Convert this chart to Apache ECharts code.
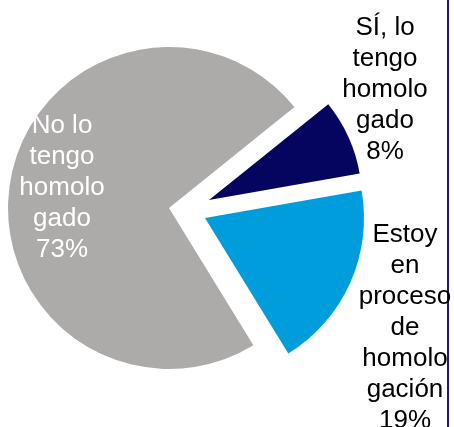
<!DOCTYPE html>
<html>
<head>
<meta charset="utf-8">
<style>
  html, body { margin: 0; padding: 0; background: #ffffff; }
  #chart { width: 454px; height: 427px; }
</style>
<script src="https://cdn.jsdelivr.net/npm/echarts@6/dist/echarts.min.js"></script>
</head>
<body>
<div id="chart"></div>
<script>
// Homologation status shares (percent)
const categories = ['SÍ, lo tengo homologado', 'Estoy en proceso de homologación', 'No lo tengo homologado'];
const labelLines = ['SÍ, lo\ntengo\nhomolo\ngado', 'Estoy\nen\nproceso\nde\nhomolo\ngación', 'No lo\ntengo\nhomolo\ngado'];
const values = [8, 19, 73];
const colors = ['#050560', '#009DDC', '#ADAAAA'];
const labelColors = ['#000000', '#000000', '#ffffff'];

// exploded-slice geometry: apex point and radius of each slice
const sliceCenters = [[209, 200], [205, 218], [169, 208]];
const sliceRadii = [153, 159, 161];

// label anchor points (centre of each text block)
const labelAnchors = [[385, 90], [405, 328], [62, 188]];

const chart = echarts.init(document.getElementById('chart'), null, { renderer: 'canvas' });

const labelGraphics = categories.map((name, i) => ({
  type: 'text',
  x: labelAnchors[i][0],
  y: labelAnchors[i][1],
  z: 10,
  style: {
    text: labelLines[i] + '\n' + values[i] + '%',
    fill: labelColors[i],
    font: '26px "Liberation Sans", Arial, sans-serif',
    lineHeight: 31,
    align: 'center',
    verticalAlign: 'middle'
  }
}));

// one pie per slice: every pie carries the full data so the angles come
// from the shares, but only its own slice is painted
const pieSeries = categories.map((_, k) => ({
  type: 'pie',
  center: sliceCenters[k],
  radius: [0, sliceRadii[k]],
  startAngle: 38.8,
  clockwise: true,
  silent: true,
  z: 2,
  data: categories.map((name, i) => ({
    name: name,
    value: values[i],
    itemStyle: { color: i === k ? colors[i] : 'rgba(0,0,0,0)' }
  })),
  label: { show: false },
  labelLine: { show: false },
  emphasis: { disabled: true }
}));

chart.setOption({
  animation: false,
  backgroundColor: '#ffffff',
  graphic: [{
    type: 'line',
    shape: { x1: 448, y1: 0, x2: 448, y2: 427 },
    style: { stroke: '#1B1B7E', lineWidth: 2 },
    z: 0
  }].concat(labelGraphics),
  series: pieSeries
});
</script>
</body>
</html>
